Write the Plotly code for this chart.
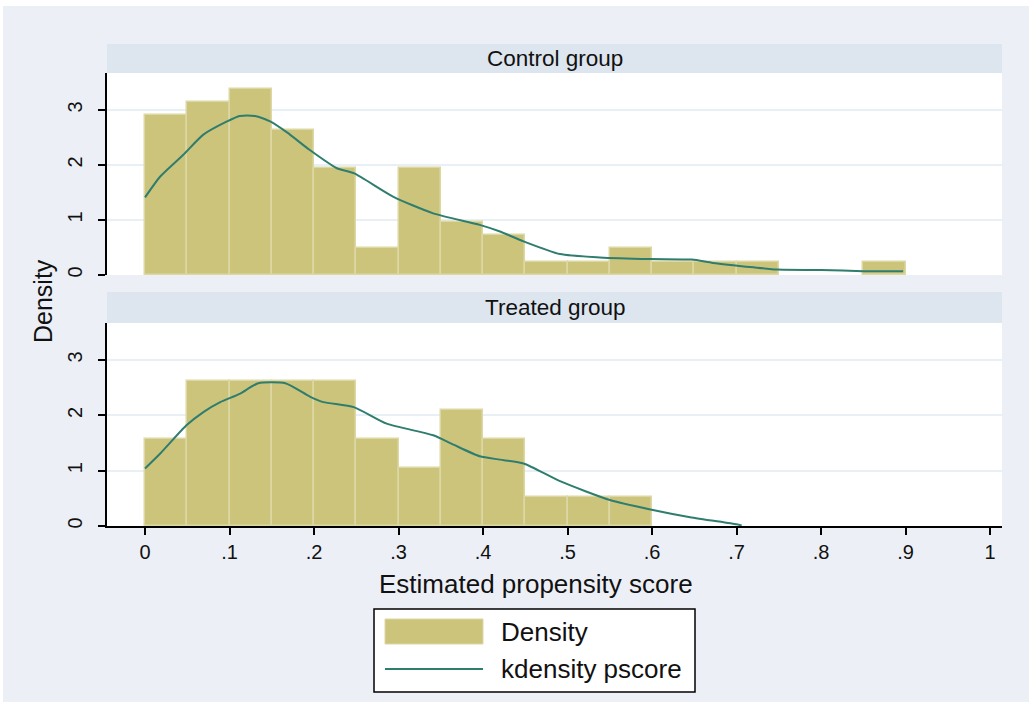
import plotly.graph_objects as go

# ---------------- data ----------------
bin_width = 0.05
bin_left = [0.00, 0.05, 0.10, 0.15, 0.20, 0.25, 0.30, 0.35, 0.40, 0.45,
            0.50, 0.55, 0.60, 0.65, 0.70, 0.75, 0.80, 0.85]
control_density = [2.91, 3.15, 3.38, 2.64, 1.94, 0.49, 1.94, 0.97, 0.73, 0.24,
                   0.24, 0.49, 0.24, 0.24, 0.24, 0.0, 0.0, 0.24]
treated_density = [1.58, 2.63, 2.63, 2.63, 2.63, 1.58, 1.05, 2.10, 1.58, 0.53,
                   0.53, 0.53, 0.0, 0.0, 0.0, 0.0, 0.0, 0.0]

control_kx = [0.000, 0.018, 0.045, 0.069, 0.097, 0.112, 0.130, 0.148, 0.168, 0.195,
              0.227, 0.247, 0.294, 0.341, 0.396, 0.420, 0.448, 0.491, 0.538, 0.598,
              0.647, 0.672, 0.720, 0.748, 0.800, 0.850, 0.897]
control_ky = [1.41, 1.79, 2.18, 2.55, 2.79, 2.89, 2.89, 2.79, 2.59, 2.27,
              1.94, 1.85, 1.42, 1.12, 0.91, 0.79, 0.61, 0.38, 0.32, 0.29,
              0.28, 0.22, 0.14, 0.10, 0.09, 0.07, 0.07]

treated_kx = [0.000, 0.018, 0.049, 0.069, 0.089, 0.112, 0.134, 0.166, 0.195, 0.211,
              0.247, 0.286, 0.341, 0.365, 0.396, 0.420, 0.448, 0.491, 0.550, 0.598,
              0.645, 0.700, 0.706]
treated_ky = [1.04, 1.31, 1.82, 2.06, 2.24, 2.39, 2.58, 2.58, 2.34, 2.24,
              2.15, 1.85, 1.64, 1.47, 1.26, 1.20, 1.13, 0.81, 0.47, 0.30,
              0.16, 0.03, 0.01]

x_tickvals = [0, 0.1, 0.2, 0.3, 0.4, 0.5, 0.6, 0.7, 0.8, 0.9, 1.0]
x_ticktext = ["0", ".1", ".2", ".3", ".4", ".5", ".6", ".7", ".8", ".9", "1"]
y_tickvals = [0, 1, 2, 3]
y_ticktext = ["0", "1", "2", "3"]

panel_titles = ["Control group", "Treated group"]
legend_labels = ["Density", "kdensity pscore"]
x_title = "Estimated propensity score"
y_title = "Density"

# ---------------- styling ----------------
W, H = 1029, 702
L, R, T, B = 107, 1002, 73, 526     # plot region in pixels
BAR_FILL = "#CDC47C"
BAR_EDGE = "#DCD7A3"
LINE_COL = "#2F7D6E"
OUTER_BG = "#ECF0F6"
STRIP_BG = "#DDE5EE"
GRID_COL = "#E9F0F5"
FONT = "Liberation Sans, Arial, sans-serif"
TXT = "#111111"


def px(x):
    return (x - L) / (R - L)


def py(y):
    return (B - y) / (B - T)


def nonzero_bars(lefts, heights):
    xs, ys = [], []
    for b, h in zip(lefts, heights):
        if h > 0:
            xs.append(b + bin_width / 2)
            ys.append(h)
    return xs, ys


fig = go.Figure()

cx, cy = nonzero_bars(bin_left, control_density)
tx, ty = nonzero_bars(bin_left, treated_density)

fig.add_trace(go.Bar(x=cx, y=cy, width=[bin_width] * len(cx),
                     marker=dict(color=BAR_FILL, line=dict(color=BAR_EDGE, width=1.5)),
                     xaxis="x", yaxis="y", showlegend=False, hoverinfo="x+y"))
fig.add_trace(go.Scatter(x=control_kx, y=control_ky, mode="lines",
                         line=dict(color=LINE_COL, width=2, shape="spline", smoothing=0.6),
                         xaxis="x", yaxis="y", showlegend=False))
fig.add_trace(go.Bar(x=tx, y=ty, width=[bin_width] * len(tx),
                     marker=dict(color=BAR_FILL, line=dict(color=BAR_EDGE, width=1.5)),
                     xaxis="x2", yaxis="y2", showlegend=False, hoverinfo="x+y"))
fig.add_trace(go.Scatter(x=treated_kx, y=treated_ky, mode="lines",
                         line=dict(color=LINE_COL, width=2, shape="spline", smoothing=0.6),
                         xaxis="x2", yaxis="y2", showlegend=False))

xr = [-0.045, 1.014]
yr = [0, 3.67]

yaxis_common = dict(range=yr, tickvals=y_tickvals, ticktext=y_ticktext,
                    showline=True, linecolor="black", linewidth=1.5,
                    ticks="outside", ticklen=7, tickwidth=1.5, tickcolor="black",
                    tickangle=-90, ticklabelstandoff=8,
                    showgrid=True, gridcolor=GRID_COL, gridwidth=1.5,
                    zeroline=False, tickfont=dict(family=FONT, size=20, color=TXT),
                    fixedrange=True)

fig.update_layout(
    width=W, height=H,
    margin=dict(l=L, r=W - R, t=T, b=H - B, pad=0),
    paper_bgcolor=OUTER_BG, plot_bgcolor="white",
    barmode="overlay", bargap=0,
    xaxis=dict(domain=[0, 1], range=xr, anchor="y", showline=False, showticklabels=False,
               ticks="", showgrid=False, zeroline=False, matches="x2"),
    yaxis=dict(domain=[py(275), 1], anchor="x", **yaxis_common),
    xaxis2=dict(domain=[0, 1], range=xr, anchor="y2", tickvals=x_tickvals, ticktext=x_ticktext,
                showline=True, linecolor="black", linewidth=1.5,
                ticks="outside", ticklen=7, tickwidth=1.5, tickcolor="black",
                showgrid=False, zeroline=False,
                tickfont=dict(family=FONT, size=20, color=TXT)),
    yaxis2=dict(domain=[0, py(323)], anchor="x2", **yaxis_common),
    showlegend=False,
)

shapes = []
# white page strips outside the graph region
shapes.append(dict(type="rect", xref="paper", yref="paper", x0=px(0), x1=px(W), y0=py(0), y1=py(6),
                   fillcolor="white", line=dict(width=0), layer="above"))
shapes.append(dict(type="rect", xref="paper", yref="paper", x0=px(0), x1=px(3), y0=py(0), y1=py(H),
                   fillcolor="white", line=dict(width=0), layer="above"))
# strips
for (y0, y1) in [(44, 73), (292, 323)]:
    shapes.append(dict(type="rect", xref="paper", yref="paper", x0=0, x1=1, y0=py(y1), y1=py(y0),
                       fillcolor=STRIP_BG, line=dict(width=0), layer="above"))
# legend box
shapes.append(dict(type="rect", xref="paper", yref="paper", x0=px(374), x1=px(695), y0=py(692), y1=py(609),
                   fillcolor="white", line=dict(color="black", width=1.5), layer="above"))
shapes.append(dict(type="rect", xref="paper", yref="paper", x0=px(385), x1=px(483), y0=py(644), y1=py(619),
                   fillcolor=BAR_FILL, line=dict(color=BAR_EDGE, width=1), layer="above"))
shapes.append(dict(type="line", xref="paper", yref="paper", x0=px(385), x1=px(483), y0=py(669), y1=py(669),
                   line=dict(color=LINE_COL, width=2), layer="above"))
fig.update_layout(shapes=shapes)

ann = []
ann.append(dict(text=panel_titles[0], xref="paper", yref="paper", x=px(555), y=py(58.5),
                xanchor="center", yanchor="middle", showarrow=False,
                font=dict(family=FONT, size=22.5, color=TXT)))
ann.append(dict(text=panel_titles[1], xref="paper", yref="paper", x=px(555), y=py(307.5),
                xanchor="center", yanchor="middle", showarrow=False,
                font=dict(family=FONT, size=22.5, color=TXT)))
ann.append(dict(text=x_title, xref="paper", yref="paper", x=px(536), y=py(584),
                xanchor="center", yanchor="middle", showarrow=False,
                font=dict(family=FONT, size=26, color=TXT)))
ann.append(dict(text=y_title, xref="paper", yref="paper", x=px(43), y=py(301),
                xanchor="center", yanchor="middle", showarrow=False, textangle=-90,
                font=dict(family=FONT, size=25, color=TXT)))
ann.append(dict(text=legend_labels[0], xref="paper", yref="paper", x=px(499), y=py(632),
                xanchor="left", yanchor="middle", showarrow=False,
                font=dict(family=FONT, size=26, color=TXT)))
ann.append(dict(text=legend_labels[1], xref="paper", yref="paper", x=px(499), y=py(669),
                xanchor="left", yanchor="middle", showarrow=False,
                font=dict(family=FONT, size=26, color=TXT)))
fig.update_layout(annotations=ann)

fig.write_html("out.html", config={"displayModeBar": False},
               post_script="document.body.style.margin='0';document.body.style.padding='0';")
